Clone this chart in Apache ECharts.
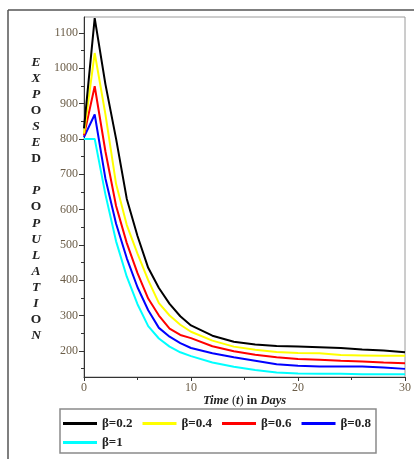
<!DOCTYPE html>
<html>
<head>
<meta charset="utf-8">
<script src="https://cdn.jsdelivr.net/npm/echarts@6/dist/echarts.min.js"></script>
<style>
html,body{margin:0;padding:0;background:#fff;}
#c{width:414px;height:459px;}
</style>
</head>
<body>
<div id="c"></div>
<script>
// ---- data ----
var days = [0,1,2,3,4,5,6,7,8,9,10,12,14,16,18,20,22,24,26,28,30];
var beta02 = [830,1142,955,800,630,525,435,378,333,298,272,243,226,218,214,212,210,208,204,201,196];
var beta04 = [815,1043,870,672,556,475,400,335,300,274,254,229,212,203,197,194,193,188,187,186,186];
var beta06 = [810,949,765,610,505,420,348,300,263,245,236,213,199,189,182,177,175,172,170,167,165];
var beta08 = [805,869,688,560,462,380,315,265,240,222,208,193,182,172,162,158,156,156,156,153,149];
var beta1  = [800,800,643,510,410,332,270,235,212,196,185,167,155,146,139,136,135,135,134,134,134];
var seriesNames = ['β=0.2','β=0.4','β=0.6','β=0.8','β=1'];
var seriesColors = ['#000000','#ffff00','#ff0000','#0000ff','#00ffff'];
var yLabelValues = [200,300,400,500,600,700,800,900,1000,1100];
var yMinorValues = [150,250,350,450,550,650,750,850,950,1050];
var yTitle = 'EXPOSED POPULATION';
var uprightIdx = [3,6,9,16]; // O, D, O, O shown upright

var allData = [beta02,beta04,beta06,beta08,beta1];

var chart = echarts.init(document.getElementById('c'));
var serif = '"Liberation Serif","DejaVu Serif",serif';
var tickColor = '#6b5d48';

var titleLines = yTitle.split('').map(function(ch,i){
  if (ch === ' ') return ' ';
  return (uprightIdx.indexOf(i) >= 0 ? '{u|' : '{i|') + ch + '}';
}).join('\n');

var series = allData.map(function(arr, k){
  return {
    name: seriesNames[k],
    type: 'line',
    data: days.map(function(d,i){ return [d, arr[i]]; }),
    symbol: 'none',
    smooth: false,
    lineStyle: {color: seriesColors[k], width: 2},
    itemStyle: {color: seriesColors[k]},
    z: 10 - k
  };
});

var legendCommon = {
  orient: 'horizontal',
  icon: 'rect', itemWidth: 34, itemHeight: 3, itemGap: 10,
  padding: 0,
  textStyle: {fontFamily: serif, fontSize: 13, fontWeight: 'bold', color: '#222'}
};

chart.setOption({
  animation: false,
  backgroundColor: '#fff',
  grid: {left: 84, right: 6, top: 17, bottom: 82, show: true, borderColor: '#9a9a9a', borderWidth: 1},
  xAxis: {
    type: 'value', min: 0, max: 30, interval: 10,
    axisLine: {show: true, lineStyle: {color: '#333', width: 1}},
    axisTick: {show: true, length: 4, lineStyle: {color: '#333'}},
    minorTick: {show: true, splitNumber: 2, length: 3, lineStyle: {color: '#333'}},
    splitLine: {show: false},
    axisLabel: {fontFamily: serif, fontSize: 12, color: tickColor, margin: 5},
    name: '{a|Time} {b|(}{a|t}{b|)} {c|in} {a|Days}',
    nameLocation: 'middle', nameGap: 17, nameMoveOverlap: false,
    nameTextStyle: {
      fontFamily: serif, fontSize: 12.5, color: '#222',
      rich: {
        a: {fontFamily: serif, fontSize: 12.5, fontStyle: 'italic', fontWeight: 'bold', color: '#222'},
        b: {fontFamily: serif, fontSize: 12.5, color: '#222'},
        c: {fontFamily: serif, fontSize: 12.5, fontWeight: 'bold', color: '#222'}
      }
    }
  },
  yAxis: [{
    type: 'value', min: 126, max: 1145,
    axisLine: {show: true, lineStyle: {color: '#333', width: 1}},
    axisTick: {show: true, length: 5, customValues: yLabelValues, lineStyle: {color: '#333'}},
    axisLabel: {fontFamily: serif, fontSize: 12, color: tickColor, margin: 6, customValues: yLabelValues,
      formatter: function(v){ return String(v); }},
    splitLine: {show: false}
  },{
    type: 'value', min: 126, max: 1145, position: 'left', offset: 0,
    axisLine: {show: false},
    axisTick: {show: true, length: 3, customValues: yMinorValues, lineStyle: {color: '#333'}},
    axisLabel: {show: false},
    splitLine: {show: false}
  }],
  legend: [
    Object.assign({}, legendCommon, {left: 63, top: 417, data: seriesNames.slice(0, 4)}),
    Object.assign({}, legendCommon, {left: 63, top: 436, data: seriesNames.slice(4)})
  ],
  graphic: [
    {type: 'line', shape: {x1: 8, y1: 10, x2: 414, y2: 10}, style: {stroke: '#555', lineWidth: 1.5}},
    {type: 'line', shape: {x1: 8, y1: 10, x2: 8, y2: 459}, style: {stroke: '#555', lineWidth: 1.5}},
    {type: 'rect', shape: {x: 60, y: 409, width: 316, height: 44}, style: {fill: 'none', stroke: '#8a8a8a', lineWidth: 1.5}},
    {type: 'text', left: 29, top: 54, style: {
      text: titleLines, lineHeight: 16.1, align: 'center',
      rich: {
        i: {fontFamily: serif, fontSize: 13.5, fontStyle: 'italic', fontWeight: 'bold', fill: '#222', lineHeight: 16.1, width: 14, align: 'center'},
        u: {fontFamily: serif, fontSize: 13.5, fontWeight: 'bold', fill: '#222', lineHeight: 16.1, width: 14, align: 'center'}
      }
    }}
  ],
  series: series
});
</script>
</body>
</html>
